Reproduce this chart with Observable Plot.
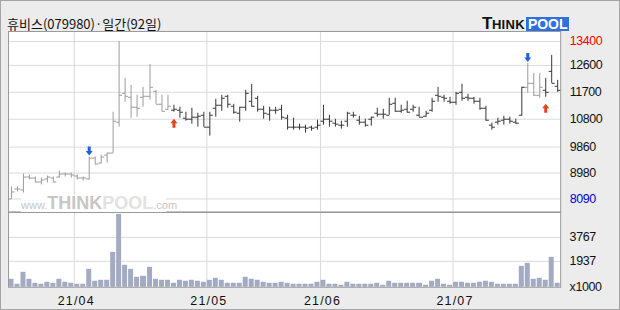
<!DOCTYPE html>
<html>
<head>
<meta charset="utf-8">
<script src="https://cdn.jsdelivr.net/npm/d3@7"></script>
<script src="https://cdn.jsdelivr.net/npm/@observablehq/plot@0.6"></script>
<style>
  body { margin: 0; }
  #wrap { position: relative; width: 620px; height: 310px; background: #ececec; box-sizing: border-box; border: 1px solid #a4a4a4; overflow: hidden; font-family: "Liberation Sans", sans-serif; }
  #wrap svg { position: absolute; left: -1px; }
  #wrap svg text { letter-spacing: -0.4px; }
  #wrap svg text.month { letter-spacing: 1.2px; }
  #title { position: absolute; left: 6px; top: 15px; font: 13px/16px "Noto Sans CJK KR", sans-serif; color: #111; white-space: nowrap; }
  #logo { position: absolute; left: 481px; top: 13px; height: 16px; white-space: nowrap; font-family: "Liberation Sans", sans-serif; font-weight: bold; }
  #logo .t { font-size: 17px; color: #111; letter-spacing: -0.5px; }
  #logo .h { font-size: 13px; color: #111; letter-spacing: 0.3px; }
  #logo .p { display: inline-block; background: #2f6fe0; color: #fff; font-size: 14px; line-height: 14px; padding: 0 1px 0 2px; margin-left: 1px; }
  #wm { position: absolute; left: 20px; top: 194px; width: 145px; height: 17px; background: #fff; color: #c6c6c6; white-space: nowrap; font-family: "Liberation Sans", sans-serif; line-height: 17px; text-align: center; }
  #wm .s { font-size: 11px; }
  #wm .b { font-size: 18px; font-weight: bold; }
  #wm .l { font-size: 18px; font-weight: bold; color: #e2e2e2; }
</style>
</head>
<body>
<div id="wrap">
  <div id="title">휴비스(079980)·일간(92일)</div>
  <div id="logo"><span class="t">T</span><span class="h">HINK</span><span class="p">POOL</span></div>
</div>
<script>
// ---- data ----
const openP  = [8100,8430,8400,8850,8800,8680,8760,8800,8850,8940,8940,8870,8800,8760,9470,9300,9580,9630,10680,11670,11530,11180,11530,11560,11730,11290,11110,11090,11090,10810,10770,10860,10920,10510,11140,11250,11560,11220,10980,11180,11400,11480,11110,10950,11090,11110,10810,10530,10530,10530,10510,10530,10730,10770,10640,10580,10730,10920,10750,10690,10770,10980,10950,10920,11310,11060,11110,11110,10920,10890,11090,11590,11530,11400,11360,11700,11530,11480,11400,11140,10580,10690,10750,10770,10690,10920,11870,12000,11590,11760,12400,11890];
const highP  = [8510,8490,8940,8910,8850,8800,8870,8850,9050,8980,8960,8910,8850,9500,9520,9580,9650,11030,13400,12150,11920,11590,11870,12630,11760,11590,11590,11250,11180,11030,11140,10980,11030,11030,11450,11590,11590,11290,11200,11760,11960,11560,11220,11180,11200,11250,10920,10810,10620,10580,10550,10750,11250,10920,10770,10730,11030,11030,10890,10770,10840,11140,11110,11480,11480,11250,11400,11250,11180,11060,11480,11850,11590,11530,11700,11960,11620,11530,11480,11220,10640,10810,10890,10840,10770,11870,12650,12320,12320,12150,12930,12090];
const lowP   = [8090,8330,8290,8740,8630,8570,8630,8630,8800,8830,8800,8740,8710,8740,9240,9280,9320,9630,10530,11360,10810,10840,11200,11420,11290,11030,11090,11030,10810,10730,10620,10510,10530,10210,10840,11060,11140,10950,10690,11060,11180,11030,10770,10730,10950,10750,10420,10420,10420,10320,10390,10420,10580,10530,10510,10440,10530,10810,10580,10530,10550,10840,10770,10920,11030,11000,10980,11030,10840,10840,11030,11360,11360,11290,11250,11400,11400,11290,11090,10730,10420,10580,10580,10620,10620,10890,11670,11560,11480,11530,11980,11700];
const closeP = [8330,8430,8850,8800,8680,8740,8850,8680,8940,8940,8910,8800,8800,9470,9280,9520,9630,10730,11580,11560,11180,11140,11560,11850,11290,11060,11220,11110,11030,10770,10860,10890,10530,10920,11250,11480,11290,11030,11180,11670,11220,11110,10980,11090,11090,10840,10510,10510,10510,10470,10470,10580,10770,10730,10620,10580,11000,10920,10690,10580,10840,10950,10950,11290,11060,11090,11030,11180,10860,11000,11400,11560,11480,11360,11670,11480,11480,11400,11140,10750,10530,10730,10770,10730,10660,11870,12000,11590,11850,11700,12000,11760];
const volumeK = [625,250,1105,625,326,250,400,326,625,351,326,250,250,1380,427,552,502,2661,5523,1682,1380,728,853,1531,602,552,552,326,552,452,502,452,400,502,703,552,326,326,326,778,625,502,351,276,276,400,326,201,250,250,250,351,552,250,250,176,400,250,201,201,201,326,176,477,276,276,276,276,326,176,477,625,250,176,400,400,276,276,400,477,400,250,201,201,201,1606,1782,625,703,552,2284,326];

const priceTicks = [13400, 12600, 11700, 10800, 9860, 8980, 8090];
const volTicks = [3767, 1937];
const volUnit = "x1000";
const monthIdx = [11, 33, 52, 74];
const monthLabels = ["21/04", "21/05", "21/06", "21/07"];
const signalIdx = [13, 27, 86, 89];
const signalType = ["sell", "buy", "sell", "buy"];

// ---- table built from the arrays ----
let state = "sell";
const bars = openP.map((o, i) => {
  const s = signalIdx.indexOf(i);
  if (s >= 0) state = signalType[s];
  return {i, open: o, high: highP[i], low: lowP[i], close: closeP[i], vol: volumeK[i], state};
});
const signals = signalIdx.map((i, k) => ({i, type: signalType[k], high: highP[i], low: lowP[i]}));
const months = monthIdx.map((m, k) => ({m, label: monthLabels[k]}));

const GRAY = "#9c9c9c", DARK = "#363636", GRID = "#dadada", BORDER = "#9a9a9a";
const FONT = "Liberation Sans";

const arrowDown = {draw(c) { c.moveTo(-1.5,-4.5); c.lineTo(1.5,-4.5); c.lineTo(1.5,0); c.lineTo(3.5,0); c.lineTo(0,4.5); c.lineTo(-3.5,0); c.lineTo(-1.5,0); c.closePath(); }};
const arrowUp = {draw(c) { c.moveTo(-1.5,4.5); c.lineTo(1.5,4.5); c.lineTo(1.5,0); c.lineTo(3.5,0); c.lineTo(0,-4.5); c.lineTo(-3.5,0); c.lineTo(-1.5,0); c.closePath(); }};

const xScale = {domain: [-0.5, 91.5], axis: null, round: true};

function ohlcMarks(filt, color) {
  const data = bars.filter(filt);
  return [
    Plot.ruleX(data, {x: "i", y1: "low", y2: "high", stroke: color}),
    Plot.link(data, {x1: d => d.i - 0.5, x2: "i", y1: "open", y2: "open", stroke: color}),
    Plot.link(data, {x1: "i", x2: d => d.i + 0.5, y1: "close", y2: "close", stroke: color})
  ];
}

const labelOpts = {frameAnchor: "right", textAnchor: "start", dx: 9, fontSize: 12.5, fontFamily: FONT};

const price = Plot.plot({
  width: 620, height: 181,
  marginLeft: 8, marginRight: 58, marginTop: 0, marginBottom: 0,
  x: xScale,
  y: {domain: [7664, 13735], axis: null, round: true},
  style: {background: "transparent", overflow: "visible"},
  marks: [
    Plot.frame({fill: "white", stroke: "none"}),
    Plot.ruleY(priceTicks, {stroke: GRID}),
    Plot.ruleX(monthIdx, {x: d => d - 0.5, stroke: GRID}),
    ...ohlcMarks(d => d.state === "sell", GRAY),
    ...ohlcMarks(d => d.state === "buy", DARK),
    Plot.dot(signals.filter(d => d.type === "sell"), {x: "i", y: "high", dy: -6, symbol: arrowDown, fill: "#1e62e2", stroke: "none"}),
    Plot.dot(signals.filter(d => d.type === "buy"), {x: "i", y: "low", dy: 11, symbol: arrowUp, fill: "#e8421a", stroke: "none"}),
    Plot.frame({stroke: BORDER}),
    Plot.text(priceTicks.slice(1, -1), {y: d => d, text: d => String(d), ...labelOpts, fill: "#111"}),
    Plot.text(priceTicks.slice(0, 1), {y: d => d, text: d => String(d), ...labelOpts, fill: "#ff0000"}),
    Plot.text(priceTicks.slice(-1), {y: d => d, text: d => String(d), ...labelOpts, fill: "#0000dd"})
  ]
});
price.style.top = "30px";

const volume = Plot.plot({
  width: 620, height: 98,
  marginLeft: 8, marginRight: 58, marginTop: 0, marginBottom: 23,
  x: xScale,
  y: {domain: [0, 5650], axis: null, round: true},
  style: {background: "transparent", overflow: "visible"},
  marks: [
    Plot.frame({fill: "white", stroke: "none"}),
    Plot.ruleY(volTicks, {stroke: GRID}),
    Plot.ruleX(monthIdx, {x: d => d - 0.5, stroke: GRID}),
    Plot.rectY(bars, {x1: d => d.i - 0.5, x2: d => d.i + 0.5, y1: 0, y2: "vol", insetLeft: 0.5, insetRight: 0.5, fill: "#a3aac3"}),
    Plot.frame({stroke: BORDER}),
    Plot.text(volTicks, {y: d => d, text: d => String(d), ...labelOpts, fill: "#111"}),
    Plot.text([0], {y: d => d, text: () => volUnit, ...labelOpts, fill: "#111"}),
    Plot.text(months, {x: d => d.m - 0.5, text: "label", frameAnchor: "bottom", lineAnchor: "middle", dy: 14, dx: 2, fontSize: 12.5, fontFamily: FONT, fill: "#111"})
  ]
});
volume.style.top = "211px";
volume.querySelectorAll("text").forEach(t => { if (monthLabels.includes(t.textContent)) t.classList.add("month"); });

const wrap = document.getElementById("wrap");
wrap.appendChild(price);
wrap.appendChild(volume);
const wm = document.createElement("div");
wm.id = "wm";
wm.innerHTML = '<span class="s">www.</span><span class="b">THINK</span><span class="l">POOL</span><span class="s">.com</span>';
wrap.appendChild(wm);
</script>
</body>
</html>
